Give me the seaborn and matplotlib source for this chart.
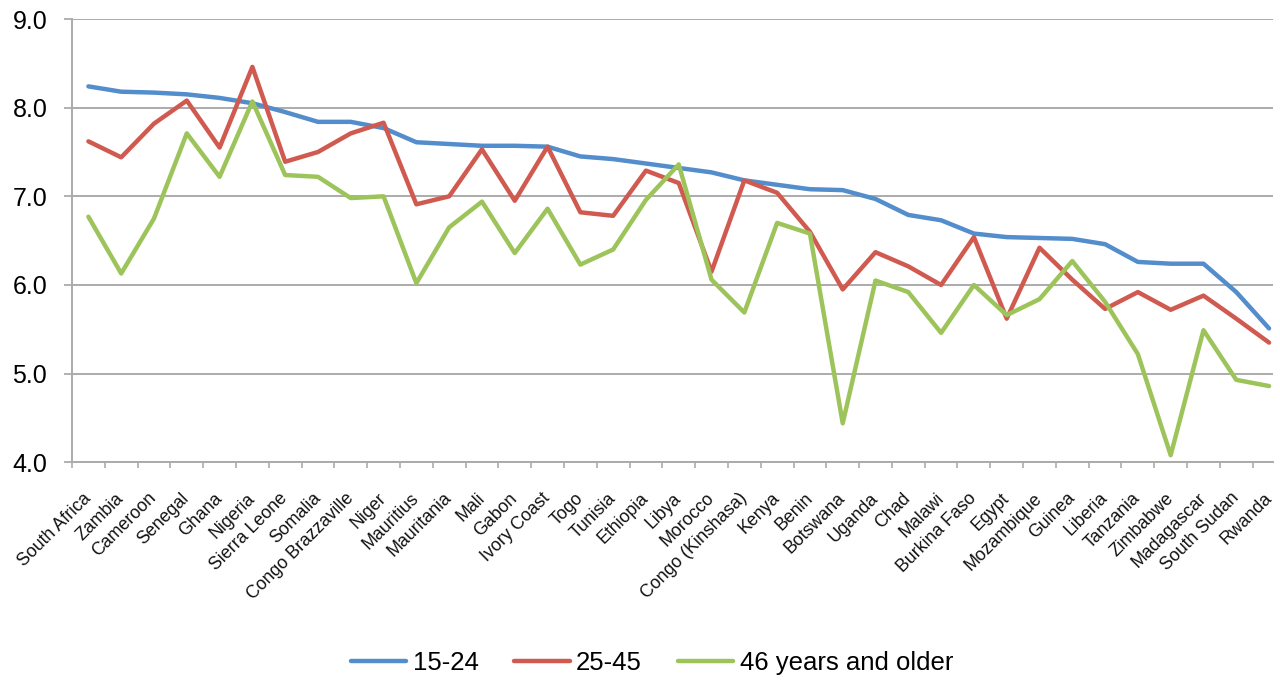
import matplotlib
matplotlib.use("Agg")
import matplotlib.pyplot as plt
import matplotlib.ticker as mticker
import pandas as pd
import seaborn as sns

countries = [
    "South Africa", "Zambia", "Cameroon", "Senegal", "Ghana", "Nigeria",
    "Sierra Leone", "Somalia", "Congo Brazzaville", "Niger", "Mauritius",
    "Mauritania", "Mali", "Gabon", "Ivory Coast", "Togo", "Tunisia",
    "Ethiopia", "Libya", "Morocco", "Congo (Kinshasa)", "Kenya", "Benin",
    "Botswana", "Uganda", "Chad", "Malawi", "Burkina Faso", "Egypt",
    "Mozambique", "Guinea", "Liberia", "Tanzania", "Zimbabwe", "Madagascar",
    "South Sudan", "Rwanda",
]

age_15_24 = [
    8.24, 8.18, 8.17, 8.15, 8.11, 8.05, 7.95, 7.84, 7.84, 7.77, 7.61,
    7.59, 7.57, 7.57, 7.56, 7.45, 7.42, 7.37, 7.32, 7.27, 7.18, 7.13,
    7.08, 7.07, 6.97, 6.79, 6.73, 6.58, 6.54, 6.53, 6.52, 6.46, 6.26,
    6.24, 6.24, 5.92, 5.51,
]
age_25_45 = [
    7.62, 7.44, 7.82, 8.08, 7.55, 8.46, 7.39, 7.50, 7.71, 7.83, 6.91,
    7.00, 7.53, 6.95, 7.56, 6.82, 6.78, 7.29, 7.15, 6.15, 7.18, 7.04,
    6.60, 5.95, 6.37, 6.21, 6.00, 6.54, 5.62, 6.42, 6.06, 5.73, 5.92,
    5.72, 5.88, 5.62, 5.35,
]
age_46_plus = [
    6.77, 6.13, 6.75, 7.71, 7.22, 8.07, 7.24, 7.22, 6.98, 7.00, 6.02,
    6.65, 6.94, 6.36, 6.86, 6.23, 6.40, 6.96, 7.36, 6.06, 5.69, 6.70,
    6.58, 4.44, 6.05, 5.92, 5.46, 6.00, 5.66, 5.84, 6.27, 5.81, 5.22,
    4.08, 5.49, 4.93, 4.86,
]

series_names = ["15-24", "25-45", "46 years and older"]
series_colors = ["#538DCB", "#D05A50", "#9DC45A"]

frames = []
for name, vals in zip(series_names, [age_15_24, age_25_45, age_46_plus]):
    frames.append(pd.DataFrame({"country": countries, "value": vals, "group": name}))
df = pd.concat(frames, ignore_index=True)

sns.set_style("white")
plt.rcParams["font.family"] = ["Liberation Sans", "DejaVu Sans"]
plt.rcParams["text.color"] = "black"
plt.rcParams["xtick.labelcolor"] = "black"
plt.rcParams["ytick.labelcolor"] = "black"

W, H = 1280, 683
fig = plt.figure(figsize=(W / 100, H / 100), dpi=100)
left, right, top, bottom = 72, 1273, 19, 462.3
ax = fig.add_axes([left / W, 1 - bottom / H, (right - left) / W, (bottom - top) / H])

grid_col = "#ABABAB"
ax.set_axisbelow(True)
ax.yaxis.grid(True, color=grid_col, linewidth=1.4)
ax.xaxis.grid(False)

sns.lineplot(
    data=df, x="country", y="value", hue="group",
    palette=dict(zip(series_names, series_colors)),
    hue_order=series_names, sort=False, errorbar=None,
    linewidth=3.2, ax=ax,
)

n = len(countries)
ax.set_xlim(-0.5, n - 1 + 0.12)
ax.set_ylim(4.0, 9.0)
ax.yaxis.set_major_locator(mticker.MultipleLocator(1.0))
ax.yaxis.set_major_formatter(mticker.FormatStrFormatter("%.1f"))
ax.set_xlabel("")
ax.set_ylabel("")

for side in ["top", "right"]:
    ax.spines[side].set_visible(False)
for side in ["left", "bottom"]:
    ax.spines[side].set_color(grid_col)
    ax.spines[side].set_linewidth(1.4)

ax.tick_params(axis="y", which="major", direction="out", length=5.8,
               width=1.3, color=grid_col, labelsize=18, pad=12, left=True,
               labelcolor="black")
ax.set_xticks(range(n))
ax.set_xticks([i - 0.5 for i in range(n)], minor=True)
ax.tick_params(axis="x", which="major", length=0, pad=24, labelsize=12.8,
               labelcolor="#111111")
ax.tick_params(axis="x", which="minor", direction="out", length=4.3,
               width=1.2, color=grid_col, bottom=True)
for lab in ax.get_xticklabels():
    lab.set_rotation(45)
    lab.set_ha("right")
    lab.set_va("center")
    lab.set_rotation_mode("anchor")

handles, labels = ax.get_legend_handles_labels()
ax.get_legend().remove()
leg = fig.legend(
    handles, labels, ncol=3, loc="center",
    bbox_to_anchor=(652 / W, 1 - 663 / H), frameon=False,
    fontsize=18.5, handlelength=2.15, handletextpad=0.25,
    columnspacing=1.4,
)
for line in leg.get_lines():
    line.set_linewidth(3.2)
for txt in leg.get_texts():
    txt.set_color("black")

fig.savefig("out.png", dpi=100)
